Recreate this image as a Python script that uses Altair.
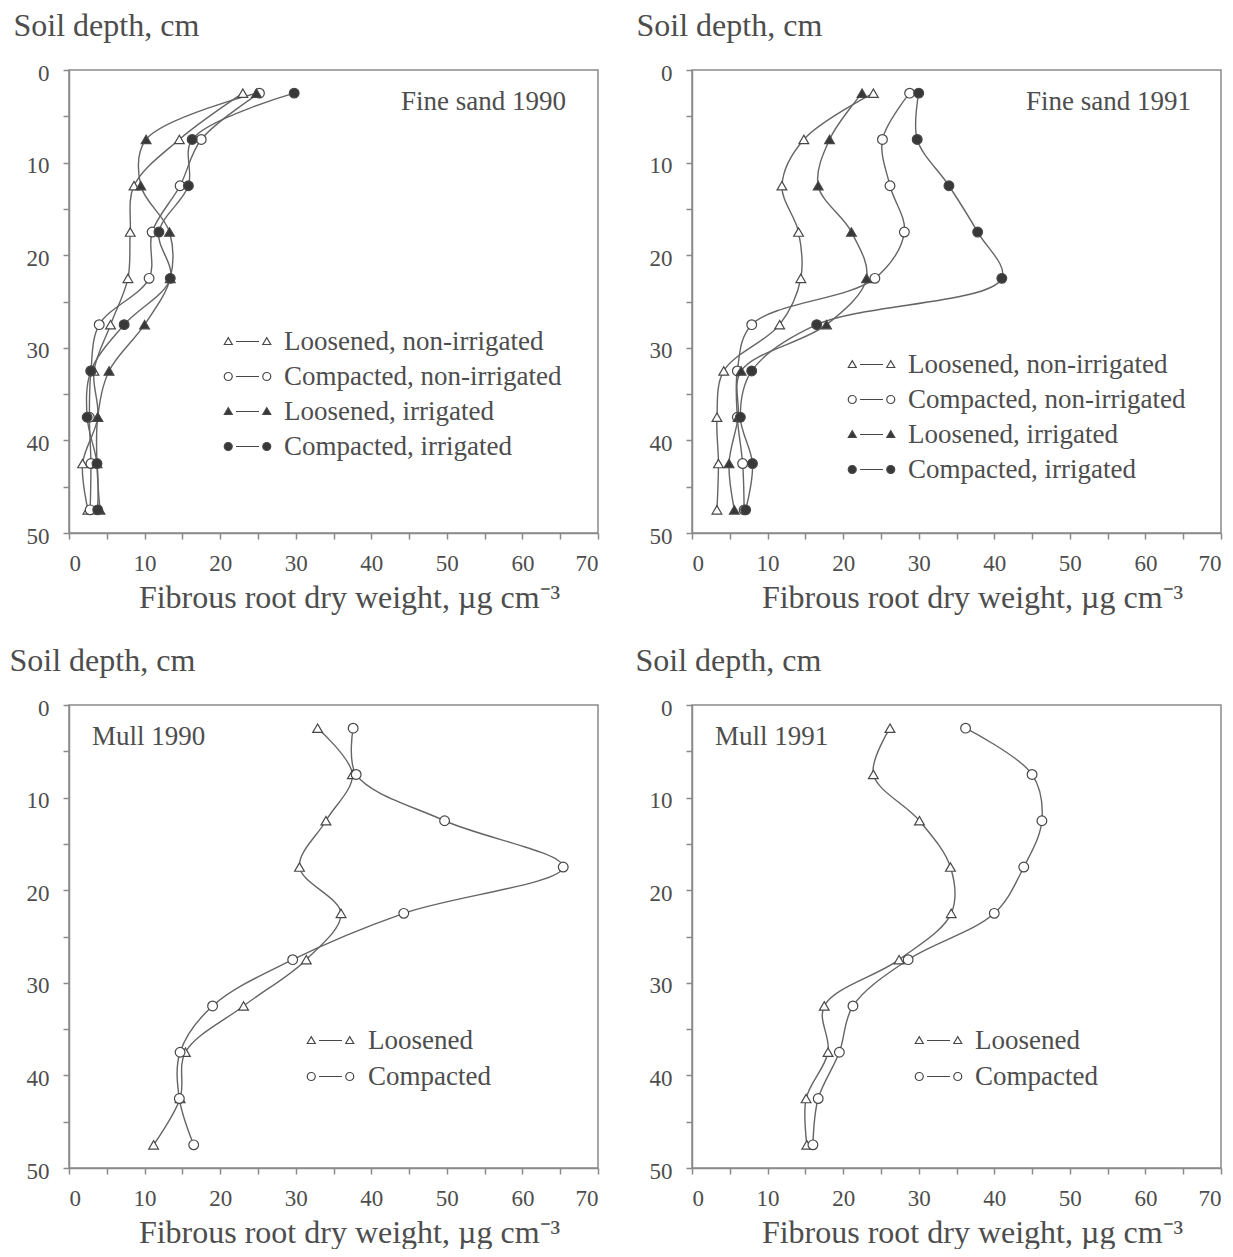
import altair as alt
import pandas as pd

# ---------------- data ----------------
depth = [2.5, 7.5, 12.5, 17.5, 22.5, 27.5, 32.5, 37.5, 42.5, 47.5]

sand_series = ["Loosened, non-irrigated", "Compacted, non-irrigated",
               "Loosened, irrigated", "Compacted, irrigated"]
mull_series = ["Loosened", "Compacted"]

sand1990_loos_nonirr = [23.0, 14.6, 8.6, 8.1, 7.8, 5.5, 3.3, 3.8, 1.8, 2.5]
sand1990_comp_nonirr = [25.2, 17.5, 14.7, 11.0, 10.6, 4.0, 2.9, 2.7, 2.9, 2.8]
sand1990_loos_irr = [24.8, 10.2, 9.5, 13.3, 13.4, 10.0, 5.3, 3.8, 3.7, 4.1]
sand1990_comp_irr = [29.8, 16.3, 15.8, 11.9, 13.4, 7.3, 2.9, 2.4, 3.7, 3.8]

sand1991_loos_nonirr = [24.0, 14.8, 11.9, 14.1, 14.4, 11.6, 4.2, 3.3, 3.5, 3.3]
sand1991_comp_nonirr = [28.8, 25.2, 26.2, 28.1, 24.2, 7.9, 6.0, 6.0, 6.7, 6.9]
sand1991_loos_irr = [22.5, 18.2, 16.7, 21.1, 23.1, 17.8, 6.5, 6.1, 4.9, 5.6]
sand1991_comp_irr = [30.0, 29.8, 34.0, 37.8, 41.0, 16.5, 7.9, 6.4, 8.0, 7.1]

mull1990_loos = [32.9, 37.5, 34.0, 30.5, 36.0, 31.4, 23.1, 15.4, 14.7, 11.2]
mull1990_comp = [37.6, 38.0, 49.7, 65.4, 44.3, 29.6, 19.0, 14.7, 14.6, 16.5]

mull1991_loos = [26.2, 24.0, 30.1, 34.2, 34.3, 27.4, 17.5, 18.0, 15.1, 15.2]
mull1991_comp = [36.2, 45.0, 46.3, 43.9, 40.0, 28.6, 21.3, 19.5, 16.7, 16.0]

x_ticks = list(range(0, 71, 5))
y_ticks = list(range(0, 51, 5))

# ---------------- style ----------------
FONT = "Liberation Serif"
TEXT = "#4d4d4d"
FRAME = "#8a8a8a"
LINE = "#656565"
MARK = "#474747"
DARK = "#383838"
W, H = 529, 463


def tri(cx):
    return f"M{cx-0.8},0.6 L{cx},-0.75 L{cx+0.8},0.6 Z"


def circ(cx):
    return (f"M{cx-0.8},0 A0.8,0.8 0 1,1 {cx+0.8},0 "
            f"A0.8,0.8 0 1,1 {cx-0.8},0 Z")


DASH = "M-2.3,0 L2.3,0"
TRI_LEG = tri(-3.85) + " " + DASH + " " + tri(3.85)
CIRC_LEG = circ(-3.85) + " " + DASH + " " + circ(3.85)


def panel(names, values, shapes, leg_paths, fills, label, anchor, dx,
          legend_x, legend_y, label_offset, row_pad, right_col, ytitle_x=-56):
    rows = []
    for name, vals in zip(names, values):
        for d, v in zip(depth, vals):
            rows.append({"series": name, "legend": name, "depth": d, "weight": v})
    df = pd.DataFrame(rows)

    xaxis_kw = dict(
        values=x_ticks,
        labelExpr="datum.value % 10 == 0 ? datum.label : ''",
        title="Fibrous root dry weight, µg cm⁻³",
        titleX=280, titleY=74, titleBaseline="alphabetic",
        labelBaseline="alphabetic", labelPadding=31,
    )
    if right_col:
        xaxis_kw["labelFlush"] = True
    x = alt.X("weight:Q", scale=alt.Scale(domain=[0, 70], nice=False),
              axis=alt.Axis(**xaxis_kw))
    y = alt.Y("depth:Q", scale=alt.Scale(domain=[0, 50], reverse=True, nice=False),
              axis=alt.Axis(values=y_ticks,
                            labelExpr="datum.value % 10 == 0 ? datum.label : ''",
                            title="Soil depth, cm", titleAngle=0, titleAlign="left",
                            titleBaseline="alphabetic", titleX=ytitle_x, titleY=-35,
                            labelPadding=14, labelOffset=3))

    line = alt.Chart(df).mark_line(
        interpolate="catmull-rom", color=LINE, strokeWidth=1.4
    ).encode(x=x, y=y, detail="series:N", order="depth:Q")

    pts = alt.Chart(df).mark_point(
        filled=True, size=95, stroke=MARK, strokeWidth=1.2, opacity=1
    ).encode(
        x=x, y=y,
        shape=alt.Shape("series:N", scale=alt.Scale(domain=names, range=shapes), legend=None),
        fill=alt.Fill("series:N", scale=alt.Scale(domain=names, range=fills), legend=None),
    )

    leg = alt.Legend(
        title=None, orient="none", legendX=legend_x, legendY=legend_y,
        labelFont=FONT, labelFontSize=27, labelColor=TEXT, labelLimit=500,
        labelOffset=label_offset, rowPadding=row_pad, padding=0, symbolSize=100,
        symbolStrokeColor=MARK, symbolStrokeWidth=1.2,
    )
    legend_layer = alt.Chart(df).transform_filter("false").mark_point(
        filled=True, stroke=MARK, strokeWidth=1.2, opacity=1
    ).encode(
        x=x, y=y,
        shape=alt.Shape("legend:N", scale=alt.Scale(domain=names, range=leg_paths), legend=leg),
        fill=alt.Fill("legend:N", scale=alt.Scale(domain=names, range=fills), legend=leg),
        stroke=alt.Stroke("legend:N", scale=alt.Scale(domain=names, range=[MARK] * len(names)),
                          legend=leg),
    )

    return alt.layer(line, pts, legend_layer).resolve_scale(
        shape="independent", fill="independent", stroke="independent"
    ).properties(
        width=W, height=H,
        title=alt.TitleParams(
            label, anchor=anchor, frame="group", dx=dx, dy=128, offset=0,
            baseline="alphabetic", font=FONT, fontSize=27, fontWeight="normal",
            color=TEXT,
        ),
    )


sand_shapes = ["triangle-up", "circle", "triangle-up", "circle"]
sand_legs = [TRI_LEG, CIRC_LEG, TRI_LEG, CIRC_LEG]
sand_fills = ["white", "white", DARK, DARK]
mull_shapes = ["triangle-up", "circle"]
mull_legs = [TRI_LEG, CIRC_LEG]
mull_fills = ["white", "white"]

p1 = panel(sand_series,
           [sand1990_loos_nonirr, sand1990_comp_nonirr, sand1990_loos_irr, sand1990_comp_irr],
           sand_shapes, sand_legs, sand_fills, "Fine sand 1990", "end", -32,
           165, 258, 23, 7, False)
p2 = panel(sand_series,
           [sand1991_loos_nonirr, sand1991_comp_nonirr, sand1991_loos_irr, sand1991_comp_irr],
           sand_shapes, sand_legs, sand_fills, "Fine sand 1991", "end", -30,
           166, 281, 23, 7, True)
p3 = panel(mull_series, [mull1990_loos, mull1990_comp],
           mull_shapes, mull_legs, mull_fills, "Mull 1990", "start", 23,
           248, 322, 24, 8, False, ytitle_x=-60)
p4 = panel(mull_series, [mull1991_loos, mull1991_comp],
           mull_shapes, mull_legs, mull_fills, "Mull 1991", "start", 23,
           233, 322, 23, 8, True, ytitle_x=-57)

chart = alt.concat(
    p1, p2, p3, p4, columns=2, spacing={"row": 172, "column": 94}, bounds="flush"
).properties(
    padding={"left": 0, "top": 0, "right": 0, "bottom": 0}
).configure_view(
    stroke=FRAME, strokeWidth=1.5
).configure_axis(
    domainColor=FRAME, domainWidth=1.5, tickColor=FRAME, tickWidth=1.5, tickSize=6,
    labelFont=FONT, labelFontSize=23, labelColor=TEXT,
    titleFont=FONT, titleFontSize=32, titleFontWeight="normal", titleColor=TEXT,
    grid=False,
)

chart.save("out.html", embed_options={"renderer": "svg", "actions": False})
